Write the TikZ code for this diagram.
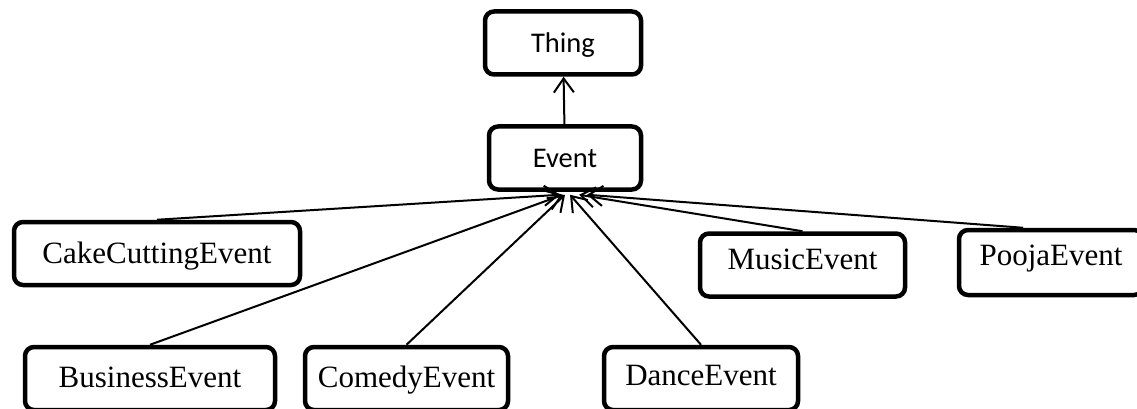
\documentclass[tikz,border=0pt]{standalone}
\usepackage{fontspec}
\setmainfont{Liberation Serif}
\newfontfamily\calibrifont{Carlito}
\usetikzlibrary{arrows.meta,calc,positioning}

\begin{document}
\begin{tikzpicture}[x=1pt,y=-1pt,>={Straight Barb[length=14pt,width=20pt]},
  classbox/.style={draw,line width=4.5pt,rounded corners=9pt,inner sep=0pt,
    minimum height=63pt,text height=20.5pt,text depth=0pt,
    font=\fontsize{31}{36}\selectfont},
  topbox/.style={classbox,text height=19.5pt,
    font=\calibrifont\fontsize{28.5}{34}\selectfont},
  isa/.style={->,line width=2pt}]

  \useasboundingbox (0,0) rectangle (1137,409);
  \clip (0,0) rectangle (1137,409);

  % Top of the hierarchy
  \node[topbox,minimum width=156pt] (thing) at (563,43) {Thing};
  \node[topbox,minimum width=152pt] (event) at (565,158) {Event};

  % Middle row
  \node[classbox,minimum width=286pt] (cake) at (157,253.5) {CakeCuttingEvent};
  \node[classbox,minimum width=205pt,text depth=12.4pt] (music) at (802.5,265) {MusicEvent};
  \node[classbox,minimum width=184pt,minimum height=65pt,text depth=15.5pt] (pooja) at (1051,262.5) {PoojaEvent};

  % Bottom row
  \node[classbox,minimum width=250pt,text depth=3pt] (business) at (150,378.5) {BusinessEvent};
  \node[classbox,minimum width=203pt,text depth=3pt] (comedy) at (406.5,378.5) {ComedyEvent};
  \node[classbox,minimum width=194pt,text depth=6pt] (dance) at (701,378.5) {DanceEvent};

  % Subclass links
  \draw[isa] (event) -- (thing);
  \draw[isa] (cake.north) -- ([xshift=-5pt,yshift=-3pt]event.south);
  \draw[isa] (business.north) -- ([xshift=-2pt,yshift=-3pt]event.south);
  \draw[isa] (comedy.north) -- ([yshift=-3pt]event.south);
  \draw[isa] (dance.north) -- ([xshift=5pt,yshift=-3pt]event.south);
  \draw[isa] (music.north) -- ([xshift=14pt,yshift=-3pt]event.south);
  \draw[isa] ([xshift=-28pt]pooja.north) -- ([xshift=22pt,yshift=-3pt]event.south);

\end{tikzpicture}
\end{document}
